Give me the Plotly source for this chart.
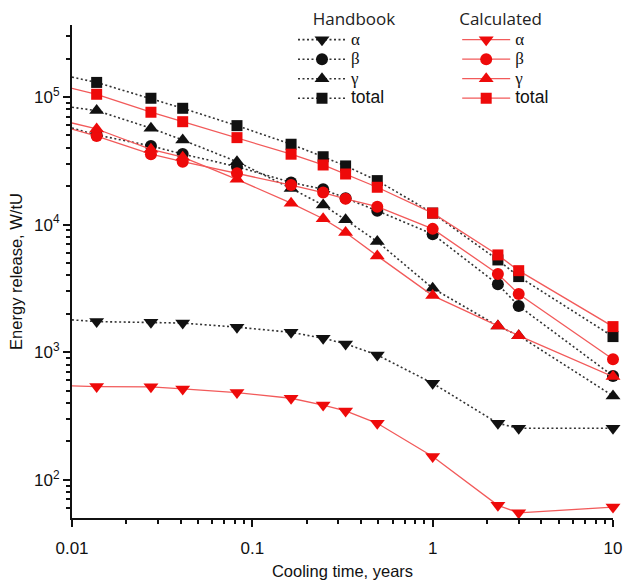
import plotly.graph_objects as go

# Cooling time (years); first value 0.01 is the axis-edge start of each line (no marker)
t_years = [0.01, 0.0137, 0.0274, 0.0411, 0.0822, 0.164, 0.247, 0.329, 0.493, 1.0, 2.3, 3.0, 10.0]

# Handbook (black, dotted)
hb_alpha = [1790, 1735, 1715, 1690, 1570, 1430, 1285, 1160, 950, 570, 277, 253, 253]
hb_beta = [57000, 50400, 41300, 35700, 28400, 21400, 18900, 16100, 12800, 8400, 3400, 2300, 650]
hb_gamma = [83000, 78200, 56900, 46000, 31100, 19200, 14200, 10900, 7350, 3170, 1600, 1347, 454]
hb_total = [143000, 130000, 97700, 81500, 59600, 42600, 34000, 28800, 22100, 12300, 5280, 3910, 1324]

# Calculated (red, solid)
ca_alpha = [543, 537, 535, 515, 482, 435, 385, 346, 277, 152, 63, 55, 61]
ca_beta = [56000, 49400, 35600, 31100, 25200, 20400, 17800, 15900, 13800, 9250, 4100, 2860, 880]
ca_gamma = [62500, 56100, 38900, 33700, 22600, 14700, 11100, 8650, 5680, 2775, 1600, 1347, 643]
ca_total = [117000, 105000, 75900, 64000, 48000, 35600, 29300, 24900, 19600, 12300, 5780, 4350, 1585]

labels = ["α", "β", "γ", "total"]
label_fonts = ["Liberation Serif", "Liberation Serif", "Liberation Serif", "Liberation Sans"]
label_sizes = [17, 17, 17, 17.5]
symbols = ["triangle-down", "circle", "triangle-up", "square"]
sizes = [13, 12, 13, 11]

x_tickvals = [0.01, 0.1, 1, 10]
x_ticktext = ["0.01", "0.1", "1", "10"]
y_tickvals = [100, 1000, 10000, 100000]
y_ticktext = ["10<sup>2</sup>", "10<sup>3</sup>", "10<sup>4</sup>", "10<sup>5</sup>"]

BLACK = "#111111"
BLACK_LINE = "#333333"
RED = "#ee0a0a"
RED_LINE = "#f25a5a"

fig = go.Figure()

groups = [
    ("legend", [hb_alpha, hb_beta, hb_gamma, hb_total], BLACK, dict(color=BLACK_LINE, width=1.6, dash="2px,2.5px")),
    ("legend2", [ca_alpha, ca_beta, ca_gamma, ca_total], RED, dict(color=RED_LINE, width=1.3)),
]

for leg, series, mcol, lstyle in groups:
    for vals, lab, lf, ls, sym, sz in zip(series, labels, label_fonts, label_sizes, symbols, sizes):
        # short line segment from axis edge to first marker
        fig.add_trace(go.Scatter(
            x=t_years[:2], y=vals[:2], mode="lines", line=lstyle,
            showlegend=False, hoverinfo="skip", cliponaxis=False,
        ))
        fig.add_trace(go.Scatter(
            x=t_years[1:], y=vals[1:], mode="lines+markers",
            name=f'<span style="font-family:{lf};font-size:{ls}px">{lab}</span>',
            line=lstyle, legend=leg, cliponaxis=False,
            marker=dict(symbol=sym, size=sz, color=mcol, line=dict(width=0)),
        ))

axis_font = dict(family="Liberation Sans, Arial, sans-serif", size=17, color="#111")
title_font = dict(family="Open Sans, Liberation Sans, sans-serif", size=17, color="#222")

fig.update_layout(
    width=625, height=581,
    margin=dict(l=72, r=12, t=25, b=63, autoexpand=False),
    plot_bgcolor="white", paper_bgcolor="white",
    font=axis_font,
    legend=dict(
        title=dict(text="&nbsp;&nbsp;&nbsp;&nbsp;Handbook", side="top", font=title_font),
        x=0.4085, y=1.045, xanchor="left", yanchor="top",
        bgcolor="rgba(0,0,0,0)", font=dict(size=12.7, color="#111"),
        tracegroupgap=0, itemwidth=48,
    ),
    legend2=dict(
        title=dict(text="Calculated", side="top", font=title_font),
        x=0.712, y=1.045, xanchor="left", yanchor="top",
        bgcolor="rgba(0,0,0,0)", font=dict(size=12.7, color="#111"),
        tracegroupgap=0, itemwidth=48,
    ),
)

fig.update_xaxes(
    type="log", range=[-2, 1],
    tickmode="array", tickvals=x_tickvals, ticktext=x_ticktext,
    ticks="outside", ticklen=7, tickwidth=1.5, tickcolor="#111",
    showline=True, linecolor="#111", linewidth=2, showgrid=False, zeroline=False,
    minor=dict(ticks="outside", ticklen=4, tickwidth=1.5, tickcolor="#111", dtick="D1", showgrid=False),
    ticklabelstandoff=7,
    title=dict(text="Cooling time, years", font=dict(size=16.5), standoff=8),
    tickfont=axis_font,
)
fig.update_yaxes(
    type="log", range=[1.70, 5.564],
    tickmode="array", tickvals=y_tickvals, ticktext=y_ticktext,
    ticks="outside", ticklen=7, tickwidth=1.5, tickcolor="#111",
    showline=True, linecolor="#111", linewidth=2, showgrid=False, zeroline=False,
    minor=dict(ticks="outside", ticklen=4, tickwidth=1.5, tickcolor="#111", dtick="D1", showgrid=False),
    title=dict(text="Energy release, W/tU", font=dict(size=16.5), standoff=7),
    tickfont=axis_font,
)

fig.write_html("out.html", config={"displayModeBar": False},
               post_script="document.body.style.margin='0';")
